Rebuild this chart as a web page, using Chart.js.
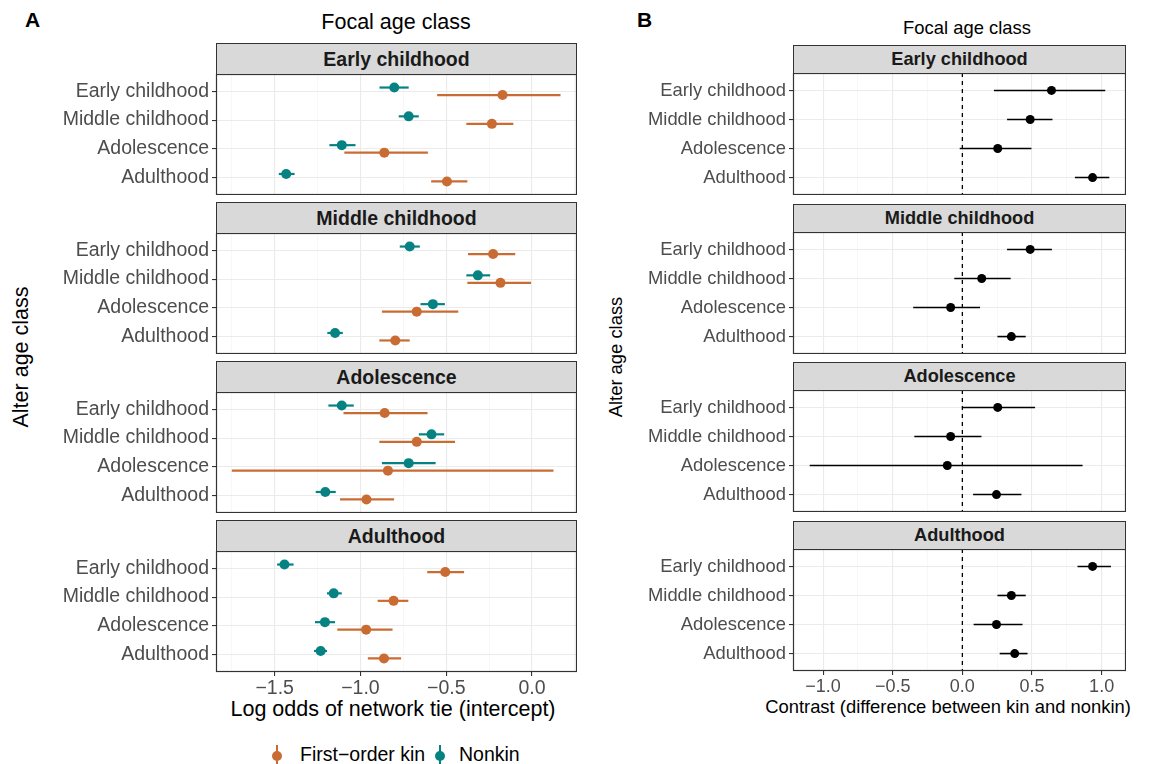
<!DOCTYPE html>
<html>
<head>
<meta charset="utf-8">
<script src="https://cdn.jsdelivr.net/npm/chart.js@4"></script>
<style>
  body { margin: 0; background: #fff; font-family: 'Liberation Sans', Arial, sans-serif; }
  #page { position: relative; width: 1164px; height: 764px; overflow: hidden; }
  .abs { position: absolute; white-space: nowrap; }
  .strip { position: absolute; box-sizing: border-box; background: #D9D9D9; border: 1px solid #333;
           font-weight: bold; color: #1A1A1A; text-align: center; }
  .tag { position: absolute; font-weight: bold; font-size: 21px; color: #000; }
  .ytitle { position: absolute; transform: translate(-50%, -50%) rotate(-90deg); white-space: nowrap; color: #000; }
  .ctr { transform: translate(-50%, -50%); color: #000; }
  .key { position: absolute; width: 12px; height: 20px; }
  .key .bar { position: absolute; left: 5px; top: 0; width: 2px; height: 20px; }
  .key .dot { position: absolute; left: 1px; top: 5.5px; width: 10px; height: 10px; border-radius: 50%; }
  canvas { position: absolute; }
</style>
</head>
<body>
<div id="page"></div>
<script>
// alter / focal age classes
const ageClasses = ['Early childhood', 'Middle childhood', 'Adolescence', 'Adulthood'];

// panel A: one row per focal class, one value per alter class
const kinEst = [
  [-0.172, -0.234, -0.861, -0.496],
  [-0.227, -0.184, -0.672, -0.797],
  [-0.859, -0.672, -0.840, -0.965],
  [-0.506, -0.807, -0.967, -0.863]
];
const kinLo = [
  [-0.553, -0.383, -1.094, -0.588],
  [-0.373, -0.377, -0.875, -0.890],
  [-1.099, -0.890, -1.750, -1.119],
  [-0.611, -0.900, -1.135, -0.957]
];
const kinHi = [
  [0.166, -0.109, -0.607, -0.377],
  [-0.098, -0.006, -0.430, -0.713],
  [-0.609, -0.449, 0.125, -0.804],
  [-0.396, -0.721, -0.813, -0.763]
];
const nonkinEst = [
  [-0.803, -0.719, -1.109, -1.433],
  [-0.713, -0.316, -0.578, -1.148],
  [-1.109, -0.586, -0.719, -1.205],
  [-1.443, -1.156, -1.207, -1.232]
];
const nonkinLo = [
  [-0.889, -0.777, -1.181, -1.476],
  [-0.771, -0.383, -0.650, -1.193],
  [-1.187, -0.660, -0.875, -1.261],
  [-1.486, -1.195, -1.265, -1.271]
];
const nonkinHi = [
  [-0.719, -0.660, -1.029, -1.384],
  [-0.654, -0.244, -0.508, -1.103],
  [-1.039, -0.512, -0.562, -1.144],
  [-1.390, -1.109, -1.148, -1.195]
];

// panel B: contrast kin - nonkin
const contrastEst = [
  [0.640, 0.487, 0.254, 0.935],
  [0.487, 0.139, -0.084, 0.352],
  [0.254, -0.084, -0.108, 0.245],
  [0.935, 0.352, 0.245, 0.376]
];
const contrastLo = [
  [0.227, 0.321, -0.019, 0.808],
  [0.321, -0.058, -0.353, 0.252],
  [0.000, -0.345, -1.096, 0.077],
  [0.827, 0.252, 0.081, 0.268]
];
const contrastHi = [
  [1.026, 0.647, 0.496, 1.055],
  [0.643, 0.347, 0.127, 0.455],
  [0.522, 0.137, 0.863, 0.424],
  [1.067, 0.455, 0.432, 0.468]
];

const ticksA = [-1.75, -1.5, -1.25, -1.0, -0.75, -0.5, -0.25, 0.0, 0.25];
const ticksB = [-1.0, -0.75, -0.5, -0.25, 0.0, 0.25, 0.5, 0.75, 1.0];

const KIN = '#C96C33';
const NONKIN = '#078282';
const FONT = "'Liberation Sans', Arial, sans-serif";
const page = document.getElementById('page');

function addDiv(cls, text, css) {
  const d = document.createElement('div');
  d.className = cls;
  d.textContent = text;
  Object.assign(d.style, css);
  page.appendChild(d);
  return d;
}

const isMajor = v => Math.abs(v * 2 - Math.round(v * 2)) < 1e-6;
const fmt = v => v.toFixed(1).replace('-', '\u2212');

// panel border on all four sides
const borderPlugin = {
  id: 'panelBorder',
  afterDraw(chart) {
    const a = chart.chartArea, ctx = chart.ctx;
    ctx.save();
    ctx.strokeStyle = '#333';
    ctx.lineWidth = 1.2;
    ctx.strokeRect(a.left + 0.5, a.top + 0.5, a.right - a.left - 1, a.bottom - a.top - 1);
    ctx.restore();
  }
};

function facet(cfg) {
  const cv = document.createElement('canvas');
  cv.style.left = cfg.left + 'px';
  cv.style.top = cfg.top + 'px';
  cv.width = cfg.width;
  cv.height = cfg.height;
  cv.style.width = cfg.width + 'px';
  cv.style.height = cfg.height + 'px';
  page.appendChild(cv);

  new Chart(cv, {
    type: 'scatter',
    data: { datasets: cfg.datasets },
    options: {
      responsive: false,
      animation: false,
      events: [],
      layout: { padding: 0, autoPadding: false },
      plugins: { legend: { display: false }, tooltip: { enabled: false } },
      scales: {
        x: {
          type: 'linear',
          min: cfg.xmin,
          max: cfg.xmax,
          afterBuildTicks: s => { s.ticks = cfg.xticks.map(v => ({ value: v })); },
          afterFit: s => {
            s.height = cfg.bottom ? cfg.xAxisH : 0;
            s.paddingLeft = 0; s.paddingRight = 0;
          },
          border: { display: false },
          grid: {
            color: c => isMajor(c.tick.value) ? '#EBEBEB' : '#F4F4F4',
            lineWidth: c => isMajor(c.tick.value) ? 1.1 : 0.7,
            drawTicks: cfg.bottom,
            tickLength: 4,
            tickColor: c => isMajor(c.tick.value) ? '#333' : 'rgba(0,0,0,0)',
            tickWidth: 1.1
          },
          ticks: {
            display: cfg.bottom,
            autoSkip: false,
            maxRotation: 0,
            padding: 1,
            color: '#4D4D4D',
            font: { family: FONT, size: cfg.tickSize },
            callback: v => isMajor(v) ? fmt(v) : ''
          }
        },
        y: {
          type: 'linear',
          min: 0.4,
          max: 4.6,
          reverse: true,
          afterBuildTicks: s => { s.ticks = ageClasses.map((c, i) => ({ value: i + 1 })); },
          afterFit: s => {
            s.width = cfg.yAxisW;
            s.paddingTop = 0; s.paddingBottom = 0;
          },
          border: { display: false },
          grid: {
            color: '#EBEBEB',
            lineWidth: 1.1,
            tickLength: 4,
            tickColor: '#333',
            tickWidth: 1.1
          },
          ticks: {
            padding: 3,
            color: '#4D4D4D',
            font: { family: FONT, size: cfg.labelSize },
            callback: v => ageClasses[v - 1]
          }
        }
      }
    },
    plugins: [borderPlugin]
  });
}

function errorBar(lo, hi, y, color, width) {
  return {
    data: [{ x: lo, y: y }, { x: hi, y: y }],
    showLine: true,
    borderColor: color,
    borderWidth: width,
    pointRadius: 0,
    order: 2
  };
}

// ---------- panel A ----------
addDiv('tag', 'A', { left: '25px', top: '8px' });
addDiv('abs ctr', 'Focal age class', { left: '396px', top: '22px', fontSize: '21.5px' });
addDiv('ytitle', 'Alter age class', { left: '21px', top: '357px', fontSize: '21.5px' });
addDiv('abs ctr', 'Log odds of network tie (intercept)', { left: '393px', top: '709px', fontSize: '21.5px' });

const dodge = 0.13;
for (let f = 0; f < 4; f++) {
  const stripTop = Math.round(43.3 + 158.9 * f);
  addDiv('strip', ageClasses[f], {
    left: '216px', top: stripTop + 'px', width: '361px', height: '32px',
    fontSize: '19.5px', lineHeight: '30px'
  });
  const ds = [];
  const kinPts = [], nonPts = [];
  ageClasses.forEach((c, i) => {
    ds.push(errorBar(nonkinLo[f][i], nonkinHi[f][i], i + 1 - dodge, NONKIN, 2.2));
    ds.push(errorBar(kinLo[f][i], kinHi[f][i], i + 1 + dodge, KIN, 2.2));
    nonPts.push({ x: nonkinEst[f][i], y: i + 1 - dodge });
    kinPts.push({ x: kinEst[f][i], y: i + 1 + dodge });
  });
  ds.push({ data: kinPts, backgroundColor: KIN, borderWidth: 0, pointRadius: 5, order: 0 });
  ds.push({ data: nonPts, backgroundColor: NONKIN, borderWidth: 0, pointRadius: 5, order: 0 });
  const bottom = f === 3;
  facet({
    left: 0, top: stripTop + 31, width: 577, height: 121 + (bottom ? 32 : 0),
    yAxisW: 216, xAxisH: 32, bottom: bottom,
    xmin: -1.842, xmax: 0.262, xticks: ticksA,
    tickSize: 19.5, labelSize: 19.5,
    datasets: ds
  });
}

// legend
const keyCss = (x) => ({ left: x + 'px', top: '745px' });
[[KIN, 271, 'First\u2212order kin', 300], [NONKIN, 434, 'Nonkin', 459]].forEach(([col, kx, txt, tx]) => {
  const k = document.createElement('div');
  k.className = 'key';
  Object.assign(k.style, keyCss(kx));
  k.innerHTML = '<div class="bar" style="background:' + col + '"></div><div class="dot" style="background:' + col + '"></div>';
  page.appendChild(k);
  addDiv('abs', txt, { left: tx + 'px', top: '743px', fontSize: '19.5px', color: '#000' });
});

// ---------- panel B ----------
addDiv('tag', 'B', { left: '637px', top: '8px' });
addDiv('abs ctr', 'Focal age class', { left: '967px', top: '28px', fontSize: '18.4px' });
addDiv('ytitle', 'Alter age class', { left: '616px', top: '357px', fontSize: '18.4px' });
addDiv('abs ctr', 'Contrast (difference between kin and nonkin)', { left: '948px', top: '707px', fontSize: '18.4px' });

for (let f = 0; f < 4; f++) {
  const stripTop = Math.round(45 + 158.6 * f);
  addDiv('strip', ageClasses[f], {
    left: '793px', top: stripTop + 'px', width: '333px', height: '29px',
    fontSize: '18.2px', lineHeight: '27px'
  });
  const ds = [];
  const pts = [];
  ageClasses.forEach((c, i) => {
    ds.push(errorBar(contrastLo[f][i], contrastHi[f][i], i + 1, '#000', 1.6));
    pts.push({ x: contrastEst[f][i], y: i + 1 });
  });
  ds.push({ data: pts, backgroundColor: '#000', borderWidth: 0, pointRadius: 4.5, order: 0 });
  ds.push({
    data: [{ x: 0, y: 0.4 }, { x: 0, y: 4.6 }],
    showLine: true, borderColor: '#000', borderWidth: 1.3, borderDash: [4, 4],
    pointRadius: 0, order: 3
  });
  const bottom = f === 3;
  facet({
    left: 600, top: stripTop + 28, width: 526, height: 122 + (bottom ? 30 : 0),
    yAxisW: 193, xAxisH: 30, bottom: bottom,
    xmin: -1.216, xmax: 1.175, xticks: ticksB,
    tickSize: 18, labelSize: 18.4,
    datasets: ds
  });
}
</script>
</body>
</html>
